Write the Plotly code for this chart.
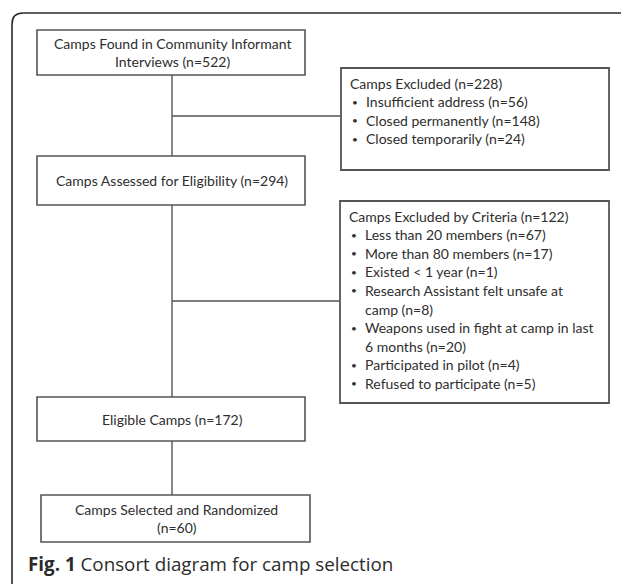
import textwrap
import plotly.graph_objects as go

# ---- data ----
stage_labels = ["Camps Found in Community Informant Interviews",
                "Camps Assessed for Eligibility",
                "Eligible Camps",
                "Camps Selected and Randomized"]
stage_n = [522, 294, 172, 60]
stage_breaks = [34, 60, 60, 29]   # wrap widths (chars) for stage box text

excl1_title = "Camps Excluded"
excl1_total = 228
excl1_reasons = ["Insufficient address", "Closed permanently", "Closed temporarily"]
excl1_n = [56, 148, 24]

excl2_title = "Camps Excluded by Criteria"
excl2_total = 122
excl2_reasons = ["Less than 20 members", "More than 80 members", "Existed < 1 year",
                 "Research Assistant felt unsafe at camp",
                 "Weapons used in fight at camp in last 6 months",
                 "Participated in pilot", "Refused to participate"]
excl2_n = [67, 17, 1, 8, 20, 4, 5]

caption_bold = "Fig. 1"
caption_text = "Consort diagram for camp selection"

# ---- layout constants (pixels) ----
W, H = 621, 584
FONT = "Lato"
FS = 14
TXT = "#2e2e2e"
BOX_LINE = "#555555"
stage_boxes = [(37, 305, 30, 75), (37, 305, 156, 205), (37, 305, 397, 441), (41, 310, 495, 542)]
excl_boxes = [(341, 609, 68, 170), (340, 609, 201, 403)]
excl_first_y = [83, 216]
line_h = 18.6
spine_x = 172
branch_y = [116, 301]

fig = go.Figure()
shapes = []
ann = []

# outer frame (top + left, rounded corner)
shapes.append(dict(type="path", path="M 12,590 L 12,24 Q 12,13 23,13 L 630,13",
                   line=dict(color="#2a2a2a", width=1.6), layer="above"))

# stage boxes
for (x0, x1, y0, y1), lab, n, wb in zip(stage_boxes, stage_labels, stage_n, stage_breaks):
    shapes.append(dict(type="rect", x0=x0, x1=x1, y0=y0, y1=y1,
                       line=dict(color=BOX_LINE, width=1.6), fillcolor="white"))
    lines = textwrap.wrap(f"{lab} (n={n})", width=wb)
    cy = (y0 + y1) / 2
    for i, ln in enumerate(lines):
        yy = cy + (i - (len(lines) - 1) / 2) * line_h
        ann.append(dict(x=(x0 + x1) / 2 + 1, y=yy, text=ln, showarrow=False,
                        xanchor="center", yanchor="middle",
                        font=dict(family=FONT, size=FS, color=TXT)))

# spine connectors between stage boxes
for a, b in zip(stage_boxes[:-1], stage_boxes[1:]):
    shapes.append(dict(type="line", x0=spine_x, x1=spine_x, y0=a[3], y1=b[2],
                       line=dict(color=BOX_LINE, width=1.4)))

# exclusion boxes
excl = [(excl1_title, excl1_total, excl1_reasons, excl1_n),
        (excl2_title, excl2_total, excl2_reasons, excl2_n)]
for (x0, x1, y0, y1), by, fy, (title, tot, reasons, ns) in zip(excl_boxes, branch_y, excl_first_y, excl):
    shapes.append(dict(type="line", x0=spine_x, x1=x0, y0=by, y1=by,
                       line=dict(color=BOX_LINE, width=1.4)))
    shapes.append(dict(type="rect", x0=x0, x1=x1, y0=y0, y1=y1,
                       line=dict(color=BOX_LINE, width=1.8), fillcolor="white"))
    ann.append(dict(x=x0 + 7, y=fy, text=f"{title} (n={tot})", showarrow=False,
                    xanchor="left", yanchor="middle",
                    font=dict(family=FONT, size=FS, color=TXT)))
    k = 1
    for r, n in zip(reasons, ns):
        wrapped = textwrap.wrap(f"{r} (n={n})", width=37)
        ann.append(dict(x=x0 + 9, y=fy + k * line_h, text="•", showarrow=False,
                        xanchor="left", yanchor="middle",
                        font=dict(family=FONT, size=10, color=TXT)))
        for ln in wrapped:
            ann.append(dict(x=x0 + 23, y=fy + k * line_h, text=ln, showarrow=False,
                            xanchor="left", yanchor="middle",
                            font=dict(family=FONT, size=FS, color=TXT)))
            k += 1

# caption
ann.append(dict(x=26, y=564, text=f"<b>{caption_bold}</b> {caption_text}", showarrow=False,
                xanchor="left", yanchor="middle",
                font=dict(family="Open Sans", size=18.8, color="#2b2b2b")))

fig.update_layout(
    width=W, height=H, margin=dict(l=0, r=0, t=0, b=0),
    paper_bgcolor="white", plot_bgcolor="white",
    xaxis=dict(range=[0, W], visible=False, fixedrange=True),
    yaxis=dict(range=[H, 0], visible=False, fixedrange=True),
    shapes=shapes, annotations=ann, showlegend=False,
)
fig.write_html("out.html", config=dict(displayModeBar=False),
               post_script="document.body.style.margin='0';document.body.style.overflow='hidden';")
